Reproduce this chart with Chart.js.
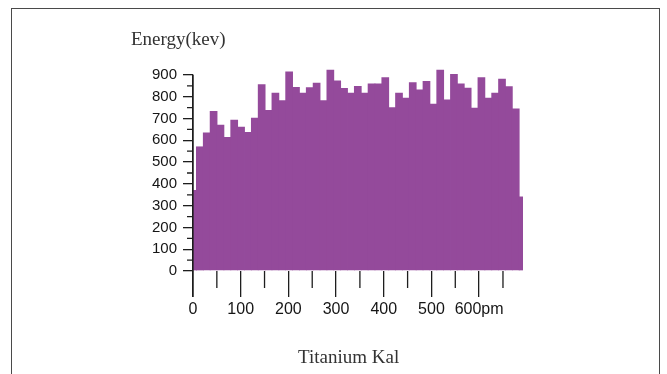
<!DOCTYPE html>
<html>
<head>
<meta charset="utf-8">
<script src="https://cdn.jsdelivr.net/npm/chart.js@4.4.1/dist/chart.umd.min.js"></script>
<style>
  html, body { margin: 0; padding: 0; background: #fff; }
  #wrap { position: relative; width: 667px; height: 374px; overflow: hidden; background: #fff; }
  #frame { position: absolute; left: 11px; top: 8px; width: 649px; height: 420px;
           border: 1px solid #4a4a4a; box-sizing: border-box; }
  canvas { position: absolute; left: 0; top: 0; }
  .cap { position: absolute; font-family: 'Liberation Serif', 'Times New Roman', serif;
         font-size: 19px; color: #333; white-space: nowrap; line-height: 1; }
</style>
</head>
<body>
<div id="wrap">
  <div id="frame"></div>
  <canvas id="chart" width="667" height="374"></canvas>
  <div class="cap" style="left:131px; top:29px;">Energy(kev)</div>
  <div class="cap" style="left:298px; top:347px;">Titanium Kal</div>
</div>
<script>
// Histogram bin centres (pm) and the counted energy in each bin
const binCenters = [
  0, 14.4, 28.8, 43.2, 57.6, 72, 86.4, 100.8, 115.2, 129.6,
  144, 158.4, 172.8, 187.2, 201.6, 216, 230.4, 244.8, 259.2, 273.6,
  288, 302.4, 316.8, 331.2, 345.6, 360, 374.4, 388.8, 403.2, 417.6,
  432, 446.4, 460.8, 475.2, 489.6, 504, 518.4, 532.8, 547.2, 561.6,
  576, 590.4, 604.8, 619.2, 633.6, 648, 662.4, 676.8, 691.2
];
const energy = [
  372, 572, 636, 735, 672, 615, 694, 662, 638, 704,
  857, 739, 818, 784, 916, 845, 818, 844, 864, 784,
  924, 875, 840, 818, 849, 818, 861, 861, 890, 752,
  818, 795, 867, 833, 872, 768, 924, 787, 905, 861,
  842, 750, 890, 795, 818, 883, 848, 746, 342
];

// Axis tick positions and labels
const xMajorTicks = [0, 100, 200, 300, 400, 500, 600];
const xTickLabels = ['0', '100', '200', '300', '400', '500', '600pm'];
const xMinorTicks = [50, 150, 250, 350, 450, 550, 650];
const yMinorTicks = [50, 150, 250, 350, 450, 550, 650, 750, 850];

const axisColor = '#1e1e1e';
const barColor = '#944a9b';

// Short minor tick marks and the vertical axis line drawn over the first bar
const axisDetails = {
  id: 'axisDetails',
  afterDraw(chart) {
    const { ctx, chartArea, scales } = chart;
    const x = scales.x, y = scales.y;
    ctx.save();
    ctx.strokeStyle = axisColor;
    ctx.lineWidth = 1.3;
    ctx.beginPath();
    xMinorTicks.forEach(v => {
      const px = x.getPixelForValue(v);
      ctx.moveTo(px, chartArea.bottom);
      ctx.lineTo(px, chartArea.bottom + 17);
    });
    yMinorTicks.forEach(v => {
      const py = y.getPixelForValue(v);
      ctx.moveTo(chartArea.left - 6, py);
      ctx.lineTo(chartArea.left, py);
    });
    ctx.moveTo(chartArea.left, chartArea.top);
    ctx.lineTo(chartArea.left, chartArea.bottom + 26);
    ctx.stroke();
    ctx.restore();
  }
};

new Chart(document.getElementById('chart'), {
  type: 'bar',
  data: {
    datasets: [{
      data: binCenters.map((c, i) => ({ x: c, y: energy[i] })),
      backgroundColor: barColor,
      borderWidth: 0,
      inflateAmount: 0,
      barPercentage: 1.12,
      categoryPercentage: 1,
      clip: { left: 0, top: false, right: 0, bottom: 0 }
    }]
  },
  options: {
    responsive: false,
    animation: false,
    devicePixelRatio: 1,
    layout: { padding: { left: 133, right: 144, top: 75, bottom: 43 } },
    plugins: { legend: { display: false }, tooltip: { enabled: false } },
    scales: {
      x: {
        type: 'linear',
        min: 0,
        max: 692,
        offset: false,
        afterFit(scale) { scale.height = 60; },
        afterBuildTicks(scale) { scale.ticks = xMajorTicks.map(v => ({ value: v })); },
        ticks: {
          includeBounds: false,
          autoSkip: false,
          maxRotation: 0,
          padding: 3,
          color: '#151515',
          font: { family: "'Liberation Sans', Arial, sans-serif", size: 16 },
          callback(value) {
            const i = xMajorTicks.indexOf(value);
            return i >= 0 ? xTickLabels[i] : '';
          }
        },
        grid: {
          offset: false,
          drawOnChartArea: false,
          drawTicks: true,
          tickLength: 26,
          color: axisColor,
          lineWidth: 1.3
        },
        border: { display: false }
      },
      y: {
        min: 0,
        max: 900,
        afterFit(scale) { scale.width = 60; },
        ticks: {
          stepSize: 100,
          padding: 6,
          color: '#151515',
          font: { family: "'Liberation Sans', Arial, sans-serif", size: 15 }
        },
        grid: {
          drawOnChartArea: false,
          drawTicks: true,
          tickLength: 10,
          color: axisColor,
          lineWidth: 1.3
        },
        border: { display: true, color: axisColor, width: 1.3 }
      }
    }
  },
  plugins: [axisDetails]
});
</script>
</body>
</html>
